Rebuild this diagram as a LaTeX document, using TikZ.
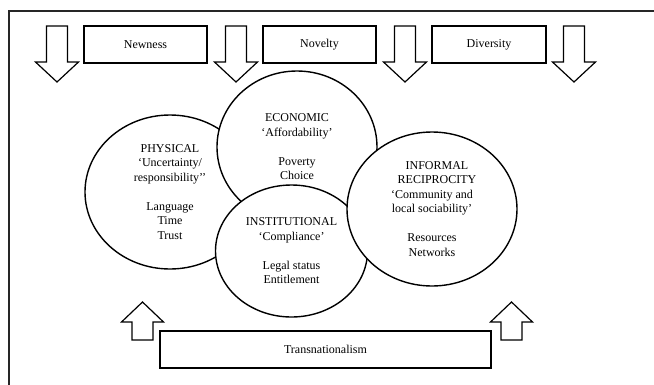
\documentclass[tikz,border=0pt]{standalone}
\usepackage{fontspec}
\setmainfont{Liberation Serif}
\usetikzlibrary{shapes.geometric}

\tikzset{
  labelbox/.style={draw, line width=1.2pt, minimum height=37pt, inner sep=0pt, font=\fontsize{12}{14.5}\selectfont},
  sphere/.style={draw, ellipse, line width=1.4pt, fill=white, inner sep=0pt, align=center, font=\fontsize{12}{14.5}\selectfont},
  blockarrow/.style={draw, line width=1.2pt, fill=white, line join=miter},
}

\begin{document}
\begin{tikzpicture}[x=1pt, y=-1pt]
  \clip (0,0) rectangle (654,384);
  % outer frame, runs off the page at right and bottom
  \draw[line width=1.6pt, black!85] (9,11) rectangle (680,410);

  % influences from above
  \node[labelbox, minimum width=123pt] (newness) at (145.5,44.5) {Newness};
  \node[labelbox, minimum width=113pt] (novelty) at (319.5,44.5) {Novelty};
  \node[labelbox, minimum width=114pt] (diversity) at (489,44.5) {Diversity};
  \foreach \ax in {57,236,405,574}
    \draw[blockarrow] (\ax-10.5,26) -- (\ax+10.5,26) -- (\ax+10.5,62) -- (\ax+21.5,62)
      -- (\ax,82) -- (\ax-21.5,62) -- (\ax-10.5,62) -- cycle;

  % influence from below
  \node[labelbox, minimum width=331pt] (transnat) at (325.5,349.5) {Transnationalism};
  \foreach \ax in {142.5,511.5}
    \draw[blockarrow] (\ax-10.5,340) -- (\ax+10.5,340) -- (\ax+10.5,322) -- (\ax+21,322)
      -- (\ax,302) -- (\ax-21,322) -- (\ax-10.5,322) -- cycle;

  % the four spheres
  \node[sphere, minimum width=170pt, minimum height=154pt] (physical) at (170,192)
    {PHYSICAL\\‘Uncertainty/\\responsibility’’\\[14.5pt]Language\\Time\\Trust};
  \node[sphere, minimum width=160pt, minimum height=152pt] (economic) at (297,147)
    {ECONOMIC\\‘Affordability’\\[14.5pt]Poverty\\Choice};
  \node[sphere, minimum width=152pt, minimum height=132pt] (institutional) at (291.5,251)
    {INSTITUTIONAL\\‘Compliance’\\[14.5pt]Legal status\\Entitlement};
  \node[sphere, minimum width=170pt, minimum height=154pt] (informal) at (432,209)
    {\hspace*{10pt}INFORMAL\\\hspace*{10pt}RECIPROCITY\\‘Community and\\local sociability’\\[14.5pt]Resources\\Networks};
\end{tikzpicture}
\end{document}
